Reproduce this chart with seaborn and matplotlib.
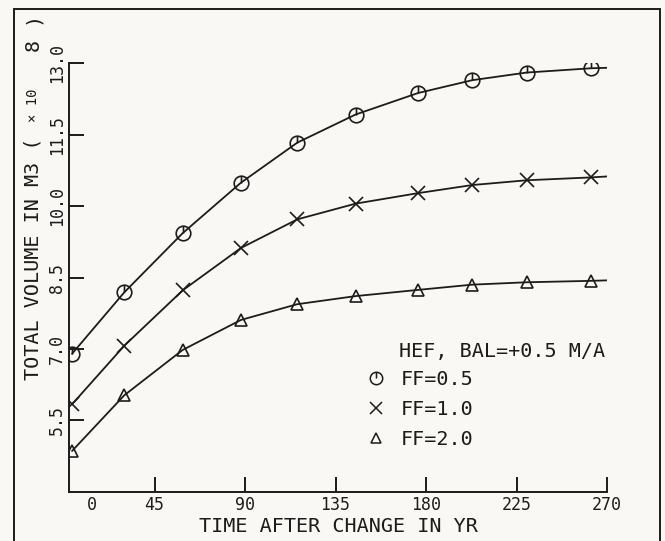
import numpy as np
import pandas as pd
import seaborn as sns
import matplotlib.pyplot as plt
from matplotlib.path import Path
from matplotlib.patches import Rectangle
from matplotlib.lines import Line2D

# values
time_yr = [4, 30, 59, 88, 116, 145, 176, 203, 230, 262]
vol_ff05 = [6.90, 8.19, 9.43, 10.49, 11.33, 11.92, 12.37, 12.64, 12.80, 12.89]
vol_ff10 = [5.84, 7.07, 8.23, 9.12, 9.72, 10.05, 10.27, 10.44, 10.54, 10.60]
vol_ff20 = [4.86, 6.03, 6.98, 7.61, 7.94, 8.11, 8.24, 8.35, 8.40, 8.43]
# where the curves stop at the right end of the axis
end_time = 270
end_vol = [12.90, 10.62, 8.44]

series = ['FF=0.5', 'FF=1.0', 'FF=2.0']
xtick_vals = [45, 90, 135, 180, 225, 270]
ytick_vals = [5.5, 7.0, 8.5, 10.0, 11.5, 13.0]

pts = pd.DataFrame({
    'time': time_yr * 3,
    'volume': vol_ff05 + vol_ff10 + vol_ff20,
    'series': np.repeat(series, len(time_yr)),
})
curve = pd.concat([
    pts,
    pd.DataFrame({'time': [end_time] * 3, 'volume': end_vol, 'series': series}),
], ignore_index=True)

# plotter style circle with a stroke from the centre to the top
circ = Path.make_compound_path(Path.unit_circle(),
                               Path([[0, 0], [0, 1]], [Path.MOVETO, Path.LINETO]))
markers = {'FF=0.5': circ, 'FF=1.0': 'x', 'FF=2.0': '^'}
sizes = {'FF=0.5': 10.5, 'FF=1.0': 9.5, 'FF=2.0': 8}

sns.set_style('white')
plt.rcParams['font.family'] = ['DejaVu Sans Mono']
ink = '#1c1c1c'
bg = '#f9f8f4'

fig = plt.figure(figsize=(6.65, 5.41), dpi=100, facecolor=bg)
ax = fig.add_axes([0.1038, 0.0906, 0.809, 0.7929])
ax.set_facecolor(bg)

sns.lineplot(data=curve, x='time', y='volume', units='series', estimator=None,
             color=ink, lw=1.3, sort=True, legend=False, ax=ax)
for s in series:
    d = pts[pts.series == s]
    sns.lineplot(x=d.time, y=d.volume, marker=markers[s], ms=sizes[s], mfc='none',
                 mec=ink, mew=1.2, linestyle='', color=ink, legend=False, ax=ax)

ax.set_xlim(2.5, 270)
ax.set_ylim(4.0, 13.0)
sns.despine(ax=ax)
for sp in ['left', 'bottom']:
    ax.spines[sp].set_color(ink)
    ax.spines[sp].set_linewidth(1.4)

ax.set_xticks(xtick_vals, labels=[str(v) for v in xtick_vals])
ax.set_xticks([14], labels=['0'], minor=True)
ax.set_yticks(ytick_vals, labels=[f'{v:.1f}' for v in ytick_vals])
ax.tick_params(axis='both', which='major', direction='in', length=11, width=1.4,
               colors=ink, labelsize=12, left=True, bottom=True)
ax.tick_params(axis='x', which='minor', length=0, labelsize=12, colors=ink, bottom=True)
ax.tick_params(axis='x', which='both', pad=3)
ax.tick_params(axis='y', pad=2, labelrotation=90)
for lab in ax.get_yticklabels():
    lab.set_va('center')

ax.set_xlabel('TIME AFTER CHANGE IN YR', fontsize=14.5, color=ink, labelpad=2)
ax.set_ylabel('')

# y label in pieces: the small "x 10", then the big exponent and the bracket
fig.text(33 / 665, 1 - 380 / 541, 'TOTAL VOLUME IN M3 (', rotation=90,
         rotation_mode='anchor', ha='left', va='center', fontsize=14.5, color=ink)
fig.text(33 / 665, 1 - 122 / 541, '× 10', rotation=90,
         rotation_mode='anchor', ha='left', va='center', fontsize=10, color=ink)
fig.text(33 / 665, 1 - 45 / 541, '8', rotation=90,
         rotation_mode='anchor', ha='center', va='center', fontsize=14.5, color=ink)
fig.text(33 / 665, 1 - 18 / 541, ')', rotation=90,
         rotation_mode='anchor', ha='center', va='center', fontsize=14.5, color=ink)

ax.text(399 / 665, 1 - 352 / 541, 'HEF, BAL=+0.5 M/A', transform=fig.transFigure,
        ha='left', va='center', fontsize=14.5, color=ink)
handles = [Line2D([], [], marker=markers[s], ms=sizes[s] * 0.85, mfc='none', mec=ink,
                  mew=1.1, linestyle='') for s in series]
ax.legend(handles, series, loc='upper left', bbox_to_anchor=(366 / 665, 1 - 370 / 541),
          bbox_transform=fig.transFigure, frameon=False, fontsize=14.5,
          handlelength=1.0, handletextpad=0.75, labelspacing=0.55,
          borderpad=0, borderaxespad=0, labelcolor=ink)

fig.add_artist(Rectangle((14 / 665, -0.2), 646 / 665, 1.2 - 9 / 541,
                         transform=fig.transFigure, fill=False, lw=1.4, ec=ink))

fig.savefig('out.png', dpi=100, facecolor=bg)
